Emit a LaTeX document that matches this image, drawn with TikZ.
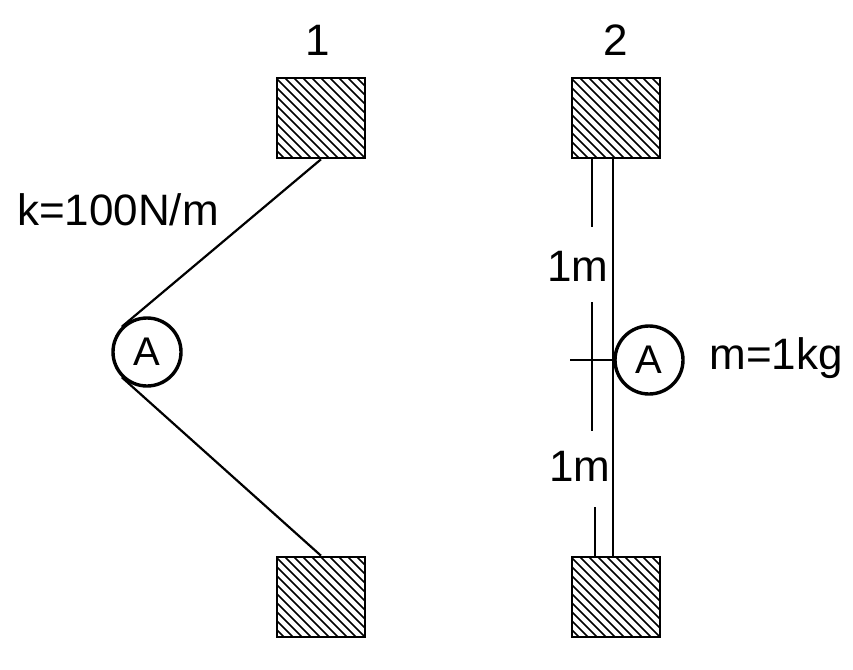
\documentclass[tikz,border=0pt]{standalone}
\usepackage{fontspec}
\setmainfont{Liberation Sans}
\usetikzlibrary{positioning,calc}

\begin{document}
\begin{tikzpicture}[x=1pt,y=-1pt,line width=2.2pt,font=\fontsize{44}{52}\selectfont]

    \tikzstyle{wall}=[draw=black,line width=2.6pt,minimum width=88pt,minimum height=80pt,inner sep=0pt,
        path picture={\foreach \s in {-100,-91,...,100}
            {\draw[line width=1.6pt] ($(path picture bounding box.north west)+(\s pt,0)$) -- ++(120pt,-120pt);}}]
    \tikzstyle{mass}=[draw=black,circle,line width=3.4pt,minimum size=68pt,inner sep=0pt,font=\fontsize{40}{46}\selectfont]

    \useasboundingbox (0,0) rectangle (853,669);

    % system 1
    \node[wall]    (w1t) at (321,118) {};
    \node[wall]    (w1b) at (321,597) {};
    \node[mass]    (A1)  at (147,352) {A};
    \node          (n1)  at (318,40)  {1};
    \node          (k)   at (118,210) {k=100N/m};
    \draw (w1t.south) -- (A1.north west);
    \draw (A1.south west) -- (w1b.north);

    % system 2
    \node[wall]    (w2t) at (616,118) {};
    \node[wall]    (w2b) at (616,597) {};
    \node[mass]    (A2)  at (649,360) {A};
    \node          (n2)  at (616,40)  {2};
    \node          (m)   at (776,358) {m=1kg};
    \draw (w2t.south -| A2.west) -- (w2b.north -| A2.west);

    % dimensions
    \node (d1) at (578,266) {1m};
    \node (d2) at (580,466) {1m};
    \coordinate (t1) at (592,227);
    \coordinate (t2) at (592,302);
    \coordinate (c)  at (592,360);
    \coordinate (t3) at (592,431);
    \coordinate (t4) at (595,507);
    \draw (w2t.south -| t1) -- (t1);
    \draw (t2) -- (t3);
    \draw (t4) -- (w2b.north -| t4);
    \draw ($(c)+(-22,0)$) -- (A2.west);

\end{tikzpicture}
\end{document}
